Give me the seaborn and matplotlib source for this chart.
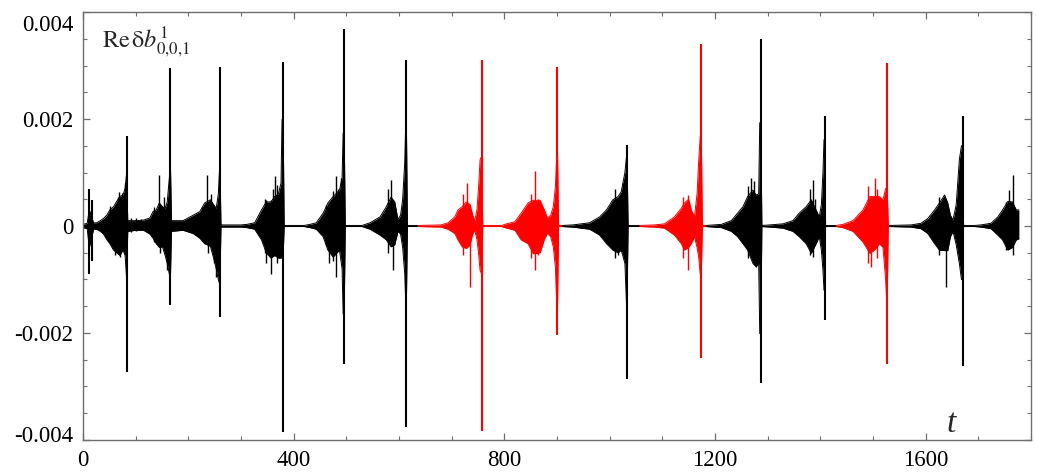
import numpy as np
import pandas as pd
import matplotlib
matplotlib.use("Agg")
import matplotlib.pyplot as plt
import matplotlib.transforms as mtransforms
from matplotlib.ticker import MultipleLocator
import seaborn as sns

# values below are in units of 1e-3
UNIT = 1e-3

# oscillation envelope (upper / lower)
env_t = [0, 8, 12, 16, 20, 26, 33, 39, 45, 51, 58, 64, 70, 76, 80, 83,
         85, 100, 115, 127, 133, 139, 145, 151, 156, 160, 164, 166,
         168, 190, 209, 222, 231, 242, 248, 253, 257, 260,
         262, 300, 311, 326, 339, 348, 357, 364, 371, 376, 378, 380,
         382, 420, 431, 443, 456, 465, 475, 487, 492, 494, 496,
         498, 530, 545, 564, 576, 585, 592, 598, 603, 607, 611, 613, 614,
         616, 636, 680, 693, 706, 712, 720, 728, 735, 740, 744, 748, 751, 754, 757,
         759, 795, 801, 820, 832, 845, 855, 868, 876, 882, 888, 893, 897, 900, 901,
         903, 910, 930, 962, 981, 994, 1006, 1016, 1022, 1029, 1032, 1033,
         1035, 1057, 1085, 1104, 1123, 1136, 1142, 1150, 1155, 1161, 1166, 1169, 1172, 1174,
         1176, 1183, 1212, 1231, 1243, 1253, 1262, 1272, 1278, 1283, 1285, 1287,
         1289, 1304, 1329, 1348, 1360, 1373, 1383, 1392, 1398, 1402, 1405, 1407, 1408,
         1410, 1430, 1443, 1462, 1481, 1494, 1503, 1512, 1519, 1524, 1526, 1527,
         1529, 1531, 1572, 1591, 1604, 1617, 1626, 1636, 1642, 1647, 1652, 1658, 1664, 1668, 1670,
         1672, 1693, 1705, 1724, 1737, 1746, 1756, 1765, 1772, 1777]
env_hi = [0.03, 0.05, 0.3, 0.2, 0.06, 0.06, 0.1, 0.14, 0.2, 0.3, 0.36, 0.46, 0.55, 0.58, 0.7, 1.0,
          0.1, 0.1, 0.11, 0.15, 0.27, 0.3, 0.43, 0.36, 0.33, 0.45, 0.9, 1.2,
          0.1, 0.1, 0.2, 0.27, 0.43, 0.49, 0.4, 0.33, 0.6, 1.2,
          0.02, 0.02, 0.03, 0.06, 0.3, 0.45, 0.45, 0.55, 0.6, 0.8, 1.99, 1.99,
          0.01, 0.01, 0.03, 0.06, 0.24, 0.43, 0.55, 0.67, 0.9, 1.74, 1.74,
          0.01, 0.01, 0.06, 0.17, 0.36, 0.54, 0.45, 0.12, 0.2, 0.5, 1.2, 2.0, 2.0,
          0.01, 0.01, 0.02, 0.06, 0.17, 0.3, 0.36, 0.45, 0.4, 0.2, 0.1, 0.3, 0.7, 1.24, 1.3,
          0.01, 0.01, 0.03, 0.08, 0.24, 0.43, 0.48, 0.48, 0.3, 0.15, 0.2, 0.36, 0.73, 1.42, 1.42,
          0.01, 0.01, 0.02, 0.06, 0.17, 0.3, 0.49, 0.55, 0.64, 1.0, 1.3, 1.3,
          0.01, 0.01, 0.02, 0.04, 0.17, 0.33, 0.43, 0.5, 0.3, 0.17, 0.6, 1.2, 1.68, 1.68,
          0.01, 0.01, 0.03, 0.1, 0.24, 0.36, 0.55, 0.67, 0.58, 0.6, 1.93, 1.93,
          0.01, 0.02, 0.04, 0.1, 0.24, 0.36, 0.49, 0.3, 0.17, 0.4, 1.0, 1.61, 1.61,
          0.01, 0.01, 0.03, 0.1, 0.3, 0.55, 0.55, 0.55, 0.49, 0.7, 0.7, 0.7,
          0.01, 0.01, 0.02, 0.05, 0.14, 0.3, 0.43, 0.58, 0.43, 0.2, 0.11, 0.4, 1.24, 1.5, 1.5,
          0.01, 0.01, 0.02, 0.05, 0.17, 0.3, 0.46, 0.45, 0.3, 0.3]
env_lo = [-0.03, -0.05, -0.4, -0.25, -0.06, -0.06, -0.1, -0.15, -0.25, -0.33, -0.45, -0.5, -0.55, -0.45, -0.55, -1.0,
          -0.1, -0.08, -0.08, -0.15, -0.23, -0.33, -0.4, -0.39, -0.55, -0.7, -0.9, -1.0,
          -0.1, -0.08, -0.14, -0.23, -0.33, -0.38, -0.6, -0.8, -1.0, -1.1,
          -0.02, -0.02, -0.03, -0.06, -0.26, -0.5, -0.6, -0.55, -0.6, -0.6, -0.58, -0.58,
          -0.01, -0.01, -0.03, -0.06, -0.2, -0.45, -0.58, -0.45, -0.8, -1.64, -1.64,
          -0.01, -0.01, -0.06, -0.17, -0.26, -0.39, -0.35, -0.1, -0.15, -0.4, -0.9, -1.5, -1.5,
          -0.01, -0.01, -0.02, -0.06, -0.14, -0.26, -0.39, -0.42, -0.35, -0.15, -0.08, -0.25, -0.5, -0.83, -0.9,
          -0.01, -0.01, -0.03, -0.08, -0.26, -0.33, -0.52, -0.5, -0.25, -0.13, -0.2, -0.39, -0.77, -1.58, -1.58,
          -0.01, -0.01, -0.02, -0.06, -0.17, -0.33, -0.45, -0.5, -0.45, -0.7, -1.45, -1.45,
          -0.01, -0.01, -0.02, -0.04, -0.17, -0.33, -0.45, -0.4, -0.33, -0.2, -0.4, -0.58, -0.9, -0.9,
          -0.01, -0.01, -0.03, -0.1, -0.2, -0.33, -0.45, -0.7, -0.76, -0.7, -2.01, -2.01,
          -0.01, -0.02, -0.04, -0.1, -0.2, -0.33, -0.51, -0.33, -0.2, -0.45, -0.83, -1.2, -1.2,
          -0.01, -0.01, -0.03, -0.1, -0.3, -0.51, -0.45, -0.33, -0.4, -1.0, -1.39, -1.39,
          -0.01, -0.01, -0.02, -0.05, -0.14, -0.33, -0.45, -0.46, -0.46, -0.2, -0.1, -0.35, -0.7, -1.0, -1.0,
          -0.01, -0.01, -0.02, -0.05, -0.17, -0.26, -0.45, -0.4, -0.26, -0.24]

# main spikes (max / min)
spike_t = [12, 17, 83, 166, 260, 380, 496, 614, 757, 901, 1033, 1174, 1287, 1408, 1527, 1670]
spike_hi = [0.69, 0.49, 1.68, 2.96, 2.98, 3.06, 3.69, 3.11, 3.11, 2.98, 1.52, 3.41, 3.5, 2.06, 3.05, 2.05]
spike_lo = [-0.89, -0.65, -2.73, -1.48, -1.7, -3.85, -2.58, -3.76, -3.84, -2.03, -2.86, -2.46, -2.94, -1.76, -2.58, -2.61]

# smaller sticks sticking out of the envelope
stick_t = [51, 61, 66, 69, 70, 74, 79, 92, 100, 110, 135, 144, 146, 153, 159,
           226, 236, 238, 244, 248, 252,
           345, 348, 357, 361, 364, 368, 462, 468, 474, 481, 485, 490,
           580, 584, 589, 722, 729, 734, 850, 858, 864, 1010, 1016, 1025,
           1140, 1149, 1262, 1268, 1274, 1278, 1380, 1386, 1390,
           1490, 1497, 1503, 1508, 1625, 1632, 1639, 1752, 1759, 1765]
stick_hi = [0.38, 0.0, 0.55, 0.64, 0.0, 0.62, 0.8, 0.15, 0.15, 0.13, 0.35, 0.96, 0.0, 0.55, 0.0,
            0.35, 0.96, 0.0, 0.6, 0.0, 0.0,
            0.5, 0.49, 0.49, 0.7, 0.94, 0.77, 0.4, 0.0, 0.65, 0.93, 0.7, 0.9,
            0.7, 0.86, 0.0, 0.6, 0.8, 0.0, 0.6, 1.02, 0.5, 0.7, 0.0, 0.8,
            0.55, 0.58, 0.75, 0.89, 0.85, 0.0, 0.7, 0.86, 0.5,
            0.75, 0.0, 0.89, 0.7, 0.55, 0.52, 0.0, 0.45, 0.67, 0.96]
stick_lo = [0.0, -0.55, 0.0, 0.0, -0.58, 0.0, 0.0, -0.12, -0.1, 0.0, -0.3, 0.0, -0.51, 0.0, -0.83,
            -0.28, 0.0, -0.51, 0.0, -0.7, -0.95,
            -0.5, -0.7, -0.89, 0.0, 0.0, -0.7, -0.35, -0.7, -0.65, -0.95, 0.0, 0.0,
            -0.5, 0.0, -0.83, -0.55, 0.0, -1.14, -0.6, -0.83, -0.55, -0.6, -0.54, 0.0,
            -0.6, -0.83, -0.6, 0.0, -0.7, -0.76, -0.55, -0.58, 0.0,
            -0.7, -0.77, 0.0, -0.6, -0.55, 0.0, -1.14, -0.45, 0.0, -0.55]

# colour segments of the curve
seg_start = [0, 636, 910, 1057, 1183, 1430, 1531]
seg_end = [636, 910, 1057, 1183, 1430, 1531, 1777]
seg_color = ["black", "red", "black", "red", "black", "red", "black"]

xticks = [0, 400, 800, 1200, 1600]
xtick_labels = ["0", "400", "800", "1200", "1600"]
yticks = [-0.004, -0.002, 0, 0.002, 0.004]
ytick_labels = ["-0.004", "-0.002", "0", "0.002", "0.004"]

sns.set_style("ticks")
plt.rcParams["font.family"] = ["Liberation Serif", "DejaVu Serif"]
plt.rcParams["mathtext.fontset"] = "stix"

env = pd.DataFrame({"t": env_t,
                    "hi": np.array(env_hi) * UNIT,
                    "lo": np.array(env_lo) * UNIT})


def color_of(t):
    for a, b, c in zip(seg_start, seg_end, seg_color):
        if a <= t <= b:
            return c
    return "black"


fig = plt.figure(figsize=(10.37, 4.73), dpi=100)
ax = fig.add_axes([0.080, 0.0698, 0.9142, 0.9048])

for a, b, c in zip(seg_start, seg_end, seg_color):
    d = env[(env.t >= a) & (env.t <= b)]
    ax.fill_between(d.t, d.lo, d.hi, color=c, lw=0)
    sns.lineplot(data=d, x="t", y="hi", color=c, lw=0.7, ax=ax,
                 estimator=None, errorbar=None)
    sns.lineplot(data=d, x="t", y="lo", color=c, lw=0.7, ax=ax,
                 estimator=None, errorbar=None)

ax.vlines(spike_t, np.array(spike_lo) * UNIT, np.array(spike_hi) * UNIT,
          colors=[color_of(t) for t in spike_t], lw=1.5)
ax.vlines(stick_t, np.array(stick_lo) * UNIT, np.array(stick_hi) * UNIT,
          colors=[color_of(t) for t in stick_t], lw=1.0)

ax.set_xlim(0, 1800)
ax.set_ylim(-0.004, 0.004)
ax.set_xticks(xticks, xtick_labels)
ax.set_yticks(yticks, ytick_labels)
ax.xaxis.set_minor_locator(MultipleLocator(100))
ax.yaxis.set_minor_locator(MultipleLocator(0.0005))
ax.set_xlabel("")
ax.set_ylabel("")

frame = "#6e6e6e"
for s in ax.spines.values():
    s.set_color(frame)
    s.set_linewidth(1.0)
ax.tick_params(which="both", direction="in", top=True, right=True,
               color=frame, labelsize=16.5, labelcolor="black")
ax.tick_params(which="major", length=5, width=0.9, pad=7)
ax.tick_params(which="minor", length=3, width=0.8)

ylabs = ax.get_yticklabels()
ylabs[-1].set_transform(ylabs[-1].get_transform() +
                        mtransforms.ScaledTranslation(0, -0.11, fig.dpi_scale_trans))
ylabs[0].set_transform(ylabs[0].get_transform() +
                       mtransforms.ScaledTranslation(0, 0.06, fig.dpi_scale_trans))

ax.text(36, 0.00333, r"$\mathrm{Re}\,\mathrm{\delta}\mathit{b}^{1}_{0{,}0{,}1}$",
        fontsize=17.5, ha="left", va="baseline")
ax.text(1649, -0.00385, "t", fontsize=24, style="italic",
        ha="center", va="baseline")

fig.savefig("out.png", dpi=100)
